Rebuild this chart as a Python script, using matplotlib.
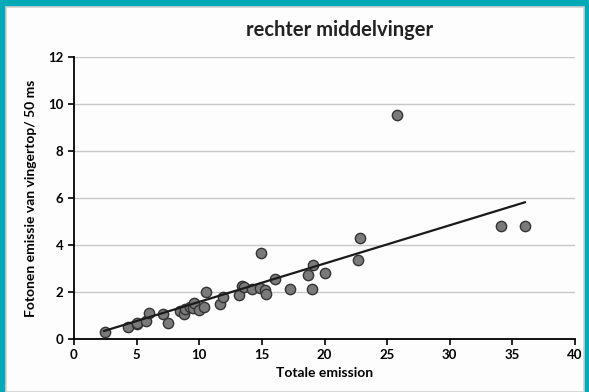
import numpy as np
import matplotlib.pyplot as plt
from matplotlib.patches import Rectangle

# totale emissie vs fotonen emissie vingertop / 50 ms
totale_emissie = [2.5, 4.3, 5.0, 5.05, 5.75, 6.0, 7.1, 7.5, 8.5, 8.8, 8.86,
                  9.3, 9.5, 9.6, 10.0, 10.4, 10.5, 11.65, 11.9, 13.15, 13.4,
                  13.6, 14.2, 14.85, 14.9, 15.25, 15.3, 16.05, 17.25, 18.7,
                  19.0, 19.1, 20.0, 22.7, 22.8, 25.8, 34.1, 36.0]
fotonen = [0.31, 0.52, 0.64, 0.69, 0.78, 1.12, 1.06, 0.67, 1.18, 1.05, 1.26,
           1.35, 1.3, 1.55, 1.23, 1.37, 2.02, 1.5, 1.77, 1.89, 2.26,
           2.2, 2.11, 2.16, 3.65, 2.09, 1.9, 2.55, 2.14, 2.74,
           2.11, 3.16, 2.79, 3.36, 4.3, 9.55, 4.82, 4.82]

# trendline (y = a*x + b)
trend_slope = 0.163
trend_icpt = -0.05

x = np.array(totale_emissie)
y = np.array(fotonen)

fig = plt.figure(figsize=(5.89, 3.92), dpi=100)
fig.patch.set_facecolor('white')

# teal frame round the picture
W, H = 589, 392
fig.patches.append(Rectangle((0, 0), 1, 1, transform=fig.transFigure,
                             facecolor='#00a9b7', edgecolor='none', zorder=-3))
fig.patches.append(Rectangle((6 / W, 0), (W - 11) / W, (H - 7) / H,
                             transform=fig.transFigure, facecolor='#fdfdfd',
                             edgecolor='#d0d0d0', lw=1.2, zorder=-2))

ax = fig.add_axes([74 / W, (H - 339) / H, (575 - 74) / W, (339 - 57) / H])
ax.set_facecolor('none')
ax.set_xlim(0, 40)
ax.set_ylim(0, 12)
ax.set_xticks(range(0, 41, 5))
ax.set_yticks(range(0, 13, 2))
ax.yaxis.grid(True, color='#c8c8c8', lw=1)
ax.set_axisbelow(True)
for s in ['top', 'right']:
    ax.spines[s].set_visible(False)
for s in ['left', 'bottom']:
    ax.spines[s].set_linewidth(1.3)
ax.tick_params(direction='out', length=4, width=1.2, labelsize=9.5)
for lab in ax.get_xticklabels() + ax.get_yticklabels():
    lab.set_fontweight('bold')
    lab.set_fontfamily('Lato')

ax.scatter(x, y, s=55, color='#7a7a7a', edgecolor='#333333', lw=1, zorder=3)
xl = np.array([2.4, x.max()])
ax.plot(xl, trend_slope * xl + trend_icpt, color='#1a1a1a', lw=1.6, zorder=4)

ax.set_xlabel('Totale emission', fontsize=10, fontweight='bold', family='Lato', labelpad=4)
ax.set_ylabel('Fotonen emissie van vingertop/ 50 ms', fontsize=10, fontweight='bold',
              family='Lato', labelpad=8)
fig.text(340 / W, 1 - 30 / H, 'rechter middelvinger', ha='center', va='center',
         fontsize=14.5, fontweight='bold', family='Lato', color='#222222')

fig.savefig('out.png', dpi=100)
